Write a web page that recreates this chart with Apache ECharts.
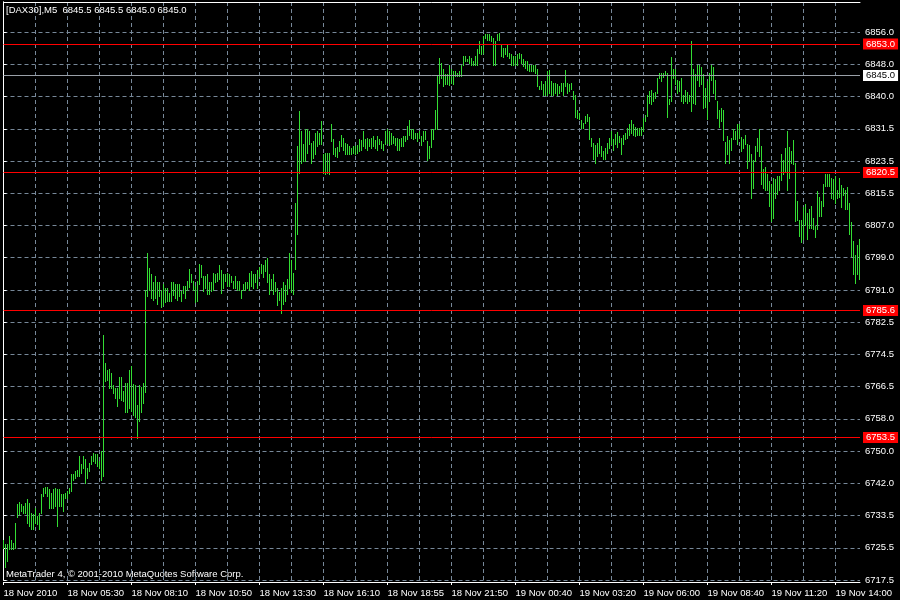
<!DOCTYPE html>
<html><head><meta charset="utf-8">
<script src="https://cdn.jsdelivr.net/npm/echarts@6/dist/echarts.min.js"></script>
<style>html,body{margin:0;padding:0;background:#000}#c{width:900px;height:600px}</style>
</head><body><div id="c"></div>
<script>
const timeLabels = ['18 Nov 2010','18 Nov 05:30','18 Nov 08:10','18 Nov 10:50','18 Nov 13:30','18 Nov 16:10','18 Nov 18:55','18 Nov 21:50','19 Nov 00:40','19 Nov 03:20','19 Nov 06:00','19 Nov 08:40','19 Nov 11:20','19 Nov 14:00'];
const priceLabels = ['6717.5','6725.5','6733.5','6742.0','6750.0','6758.0','6766.5','6774.5','6782.5','6791.0','6799.0','6807.0','6815.5','6823.5','6831.5','6840.0','6848.0','6856.0'];
const levelValues = [6853.0, 6845.0, 6820.5, 6785.6, 6753.5];
const levelLabels = ['6853.0','6845.0','6820.5','6785.6','6753.5'];
const levelIsBid = [false, true, false, false, false];
const headerText = '[DAX30],M5  6845.5 6845.5 6845.0 6845.0';
const footerText = 'MetaTrader 4, \u00A9 2001-2010 MetaQuotes Software Corp.';

const highs = [
 6727.5,6726.5,6726.5,6728.6,6727.5,6726.9,6731.8,6736.6,6737.2,6736.8,
 6736.2,6737.0,6737.9,6737.0,6734.5,6734.1,6735.8,6733.7,6734.5,6739.2,
 6740.8,6741.0,6741.0,6740.4,6739.6,6740.4,6740.8,6740.4,6740.4,6739.3,
 6739.2,6739.6,6740.0,6740.8,6744.2,6744.2,6745.1,6745.2,6748.8,6746.7,
 6748.8,6748.0,6745.9,6747.2,6748.8,6749.7,6749.4,6749.3,6747.6,6750.1,
 6779.4,
 6772.4,6770.7,6770.9,6769.7,6766.8,6766.1,6766.1,6768.8,6768.8,6765.3,
 6767.4,6767.2,6770.7,6771.6,6767.1,6766.8,6761.7,6766.8,6766.3,6767.4,6790.7,
 6800.1,6796.4,6794.9,6792.9,6794.3,6792.7,6792.8,6790.7,6792.2,6791.4,
 6791.2,6790.1,6792.9,6792.8,6792.4,6792.2,6792.2,6790.5,6791.8,6791.8,
 6793.2,6796.1,6794.9,6793.1,6791.8,6793.1,6797.3,6797.1,6794.3,6794.3,
 6794.8,6792.9,6792.9,6795.2,6794.9,6795.2,6797.1,6795.8,6794.9,6794.9,
 6795.2,6794.8,6794.3,6793.2,6794.3,6793.2,6793.2,6790.9,6792.4,6792.7,
 6792.9,6795.2,6795.6,6794.9,6794.9,6795.8,6796.6,6797.5,6797.1,6798.5,
 6798.8,6794.9,6793.7,6794.9,6792.9,6791.2,6790.4,6791.4,6792.9,6792.1,
 6793.7,6800.1,6798.5,6795.2,
 6812.9,6827.2,
 6836.0,6831.0,6827.6,6831.4,6831.4,6831.1,6828.0,6828.4,6830.5,6831.0,
 6830.5,6833.5,6825.1,6825.5,6825.5,6825.5,6832.7,6828.9,6826.8,6827.0,
 6828.4,6830.1,6829.3,6828.0,6827.6,6827.2,6826.8,6827.2,6827.2,6827.4,
 6828.9,6828.6,6831.1,6828.9,6829.3,6828.9,6829.3,6829.7,6828.6,6829.7,
 6828.9,6828.4,6827.8,6831.0,6831.4,6831.1,6830.5,6829.7,6829.3,6829.3,
 6828.9,6829.3,6829.7,6829.7,6832.2,6833.7,6831.4,6831.4,6830.5,6830.5,
 6831.1,6829.7,6831.0,6831.0,6828.4,6827.2,6831.4,6831.4,6836.4,6844.9,
 6849.5,6848.2,6846.6,6845.3,6845.3,6847.8,6846.6,6846.1,6846.1,6845.7,
 6846.1,6847.8,6849.9,6849.9,6849.1,6849.9,6849.5,6848.7,6849.9,6851.6,
 6853.7,6852.5,6855.0,6855.6,6855.6,6855.6,6855.0,6854.6,6853.7,6855.6,
 6855.8,6852.9,6852.0,6852.0,6852.7,6850.8,6850.4,6849.9,6849.9,6850.4,
 6850.8,6850.5,6849.3,6848.8,6848.8,6847.8,6847.7,6847.7,6847.8,6846.6,
 6842.4,6843.6,6842.8,6843.6,6846.1,6846.3,6843.6,6843.2,6843.2,6842.8,
 6842.4,6843.2,6843.2,6846.3,6843.2,6842.8,6843.2,6841.1,6840.2,6836.2,
 6835.6,6833.7,6833.1,6834.8,6835.4,6834.5,6829.3,6828.0,6827.4,6828.0,
 6829.1,6827.2,6825.9,6826.8,6828.0,6829.1,6831.1,6828.9,6830.3,6830.8,
 6829.7,6829.1,6830.1,6830.5,6831.8,6832.7,6833.7,6832.7,6832.0,6831.8,
 6831.8,6832.0,6834.3,6835.0,6840.2,6841.1,6841.3,6840.7,6840.9,6844.5,
 6845.7,6845.7,6845.7,6846.1,6845.7,6839.0,6849.7,6846.6,6846.6,6843.8,
 6843.6,6844.3,6840.2,6841.3,6840.9,6840.2,6853.7,6846.6,6845.3,6847.7,
 6847.7,
 6847.2,6845.3,6841.9,6843.6,6845.7,6847.8,6847.2,6844.0,6838.7,6836.4,
 6836.7,6836.4,6828.3,6829.7,6828.6,6829.3,6831.6,6831.1,6832.7,6832.8,
 6829.5,6828.9,6830.1,6827.8,6827.4,6825.3,6823.6,6827.2,6829.3,6831.6,
 6827.2,6821.3,6821.9,6820.0,6818.3,6817.5,6819.2,6818.8,6819.6,6819.6,
 6825.1,6823.6,6826.8,6831.0,6827.0,6825.9,6828.6,6823.0,6813.3,6808.4,
 6808.4,6811.8,6812.6,6810.3,6811.2,6812.0,6808.9,6807.0,6815.8,6814.3,
 6813.3,6817.5,6820.2,6820.0,6820.0,6819.2,6818.9,6819.6,6816.2,6819.2,
 6817.3,6816.6,6816.2,6816.8,6812.9,6808.1,6803.3,6799.6,6802.2,6803.6
];
const lows = [
 6725.7,6720.8,6722.3,6725.3,6725.3,6725.3,6725.7,6733.3,6734.1,6734.9,
 6734.5,6734.5,6732.0,6731.2,6730.3,6730.3,6732.0,6731.6,6730.3,6734.5,
 6738.7,6739.6,6738.7,6735.8,6735.8,6735.6,6736.2,6731.2,6736.2,6736.2,
 6734.9,6738.3,6738.3,6739.6,6740.0,6742.9,6743.4,6743.8,6743.8,6744.6,
 6745.9,6742.1,6743.4,6745.1,6746.7,6747.6,6747.2,6746.3,6745.9,6742.9,
 6743.8,
 6767.8,6768.0,6766.1,6766.1,6764.8,6763.6,6761.5,6763.6,6762.9,6762.7,
 6759.9,6759.9,6761.0,6760.2,6759.2,6758.7,6753.5,6757.8,6760.0,6762.3,6765.1,
 6789.3,6790.7,6788.7,6788.2,6788.9,6787.2,6789.3,6786.5,6787.0,6787.8,
 6788.0,6788.0,6788.0,6789.5,6788.9,6788.2,6789.3,6788.0,6790.1,6788.9,
 6790.7,6791.6,6792.7,6790.7,6787.8,6788.0,6792.2,6794.1,6790.5,6791.2,
 6789.7,6789.9,6790.5,6790.9,6792.9,6793.2,6793.5,6790.1,6791.4,6793.2,
 6791.8,6791.8,6792.9,6791.4,6791.4,6790.7,6790.7,6788.9,6790.7,6790.7,
 6791.4,6790.7,6791.8,6791.4,6792.7,6791.4,6794.3,6795.2,6794.1,6795.6,
 6792.7,6789.9,6790.7,6789.7,6790.5,6787.0,6788.2,6785.1,6787.3,6788.0,
 6789.9,6791.4,6790.4,6789.9,
 6796.0,6805.0,
 6820.4,6823.0,6823.4,6823.4,6825.5,6827.6,6823.0,6824.2,6825.1,6827.2,
 6827.6,6827.6,6820.4,6820.0,6820.4,6820.0,6828.4,6825.1,6824.6,6824.4,
 6825.9,6827.2,6826.3,6825.3,6825.3,6825.1,6825.1,6825.5,6825.3,6825.5,
 6825.9,6826.3,6827.2,6826.8,6826.3,6827.2,6826.8,6827.2,6826.8,6826.3,
 6827.6,6826.6,6826.1,6827.8,6828.0,6827.4,6827.8,6828.0,6827.4,6826.1,
 6826.3,6827.2,6827.2,6828.4,6828.9,6830.1,6829.3,6828.9,6829.3,6828.4,
 6829.3,6827.4,6828.4,6828.9,6823.6,6824.2,6827.0,6828.9,6831.4,6831.4,
 6843.2,6844.5,6842.4,6842.8,6842.8,6842.6,6843.2,6842.8,6844.9,6844.9,
 6844.9,6844.9,6847.8,6848.7,6848.7,6848.2,6847.8,6847.8,6847.8,6847.8,
 6850.8,6850.4,6850.8,6854.6,6854.1,6854.1,6853.7,6847.8,6847.8,6854.1,
 6854.1,6849.9,6849.7,6850.4,6849.9,6849.5,6847.8,6847.7,6847.8,6847.8,
 6849.5,6848.2,6847.4,6847.0,6846.3,6846.1,6846.1,6846.1,6845.7,6842.4,
 6841.5,6841.5,6840.2,6840.2,6840.2,6840.7,6840.2,6840.2,6840.7,6840.2,
 6840.7,6841.1,6840.2,6842.4,6840.7,6841.1,6841.5,6839.2,6834.5,6834.3,
 6833.9,6831.8,6831.8,6833.1,6833.5,6828.9,6827.2,6823.8,6823.0,6824.6,
 6825.5,6824.6,6824.0,6824.0,6825.5,6826.8,6827.6,6826.3,6827.8,6826.9,
 6828.3,6825.3,6827.8,6828.9,6829.3,6830.1,6830.5,6830.1,6829.7,6830.1,
 6830.1,6830.1,6831.0,6833.5,6834.8,6838.1,6837.7,6838.6,6839.4,6840.7,
 6844.5,6843.6,6844.6,6845.3,6834.5,6837.7,6838.6,6844.5,6842.8,6840.7,
 6841.1,6838.6,6838.1,6838.7,6838.1,6838.6,6836.0,6838.1,6837.7,6843.8,
 6842.4,
 6842.8,6836.7,6837.0,6833.9,6838.6,6844.0,6840.7,6839.0,6834.3,6832.0,
 6833.5,6828.6,6823.0,6825.1,6823.0,6826.3,6828.9,6828.9,6827.8,6829.3,
 6825.9,6826.6,6827.6,6821.7,6823.4,6814.1,6816.6,6823.4,6825.9,6824.6,
 6817.5,6816.6,6816.2,6816.0,6812.0,6808.2,6809.1,6814.1,6815.0,6816.2,
 6818.5,6820.0,6820.9,6816.2,6819.2,6823.0,6822.7,6808.2,6808.6,6804.4,
 6803.0,6803.6,6807.2,6803.8,6806.4,6806.5,6806.1,6804.2,6806.1,6809.5,
 6809.5,6812.0,6817.1,6817.1,6817.1,6814.1,6813.7,6812.9,6814.1,6814.3,
 6811.8,6814.8,6811.2,6811.2,6805.0,6799.4,6794.8,6792.6,6794.8,6793.7
];
if (highs.length !== lows.length) throw new Error('length mismatch ' + highs.length + ' ' + lows.length);

const FONT = 'Liberation Sans';
const FS = 9.5;
const BAR = '#33dd33';
const GRIDC = '#778899';
const yMin = 6717.5, yStep = 138.5 / 17, yMax = 6863.6;
const xMax = 428.25;

const barData = highs.map((h, i) => [i, h, lows[i]]);

const chart = echarts.init(document.getElementById('c'), null, {renderer: 'canvas'});
chart.setOption({
  backgroundColor: '#000',
  animation: false,
  grid: {left: 3.5, right: 40, top: 2, bottom: 20, containLabel: false},
  graphic: [
    {type: 'text', left: 6, top: 5, style: {text: headerText, fill: '#fff', font: FS + 'px "' + FONT + '"'}},
    {type: 'text', left: 6, top: 569, style: {text: footerText, fill: '#fff', font: FS + 'px "' + FONT + '"'}}
  ],
  xAxis: [
    {type: 'value', min: 0, max: xMax, interval: 32, position: 'bottom', offset: 2,
     axisLine: {show: true, lineStyle: {color: '#fff', width: 1}},
     axisTick: {show: true, length: 3, lineStyle: {color: '#fff'}},
     axisLabel: {show: true, align: 'left', margin: 6, color: '#fff', fontSize: FS, fontFamily: FONT,
       showMaxLabel: false, showMinLabel: true,
       formatter: v => (Math.abs(v % 32) < 1e-6 ? (timeLabels[Math.round(v / 32)] || '') : '')},
     splitLine: {show: false}},
    {type: 'value', min: 0, max: xMax, interval: 16, position: 'bottom',
     axisLine: {show: false}, axisTick: {show: false}, axisLabel: {show: false},
     splitLine: {show: true, showMinLine: false, showMaxLine: false, lineStyle: {color: GRIDC, width: 1, type: [4, 3]}}},
    {type: 'value', min: 0, max: xMax, position: 'top',
     axisLine: {show: true, lineStyle: {color: '#fff'}}, axisTick: {show: false}, axisLabel: {show: false}, splitLine: {show: false}}
  ],
  yAxis: [
    {type: 'value', position: 'right', min: yMin, max: yMax, interval: yStep,
     axisLine: {show: true, lineStyle: {color: '#fff'}},
     axisTick: {show: true, length: 3, lineStyle: {color: '#fff'}},
     axisLabel: {show: true, color: '#fff', fontSize: FS, fontFamily: FONT, margin: 5, showMaxLabel: false,
       formatter: v => priceLabels[Math.round((v - yMin) / yStep)] || ''},
     splitLine: {show: true, showMaxLine: false, lineStyle: {color: GRIDC, width: 1, type: [4, 3]}}},
    {type: 'value', position: 'left', offset: 1, min: yMin, max: yMax,
     axisLine: {show: true, lineStyle: {color: '#fff'}}, axisTick: {show: false}, axisLabel: {show: false}, splitLine: {show: false}}
  ],
  series: [
    {type: 'custom', xAxisIndex: 0, yAxisIndex: 0, silent: true, clip: true,
     encode: {x: 0, y: [1, 2]},
     data: barData,
     renderItem: (params, api) => {
       const i = api.value(0);
       const p1 = api.coord([i, api.value(1)]);
       const p2 = api.coord([i, api.value(2)]);
       const x = Math.floor(p1[0]) + 0.5;
       const y1 = Math.round(p1[1]);
       let y2 = Math.round(p2[1]) + 1;
       if (y2 - y1 < 1) y2 = y1 + 1;
       return {type: 'line', shape: {x1: x, y1: y1, x2: x, y2: y2}, style: {stroke: BAR, lineWidth: 1}};
     }},
    {type: 'line', xAxisIndex: 0, yAxisIndex: 0, data: [], silent: true,
     markLine: {
       silent: true, symbol: 'none', animation: false,
       data: levelValues.map((v, k) => ({
         yAxis: v,
         lineStyle: {color: levelIsBid[k] ? '#9aa0a8' : '#ff0000', width: 1, type: 'solid'},
         label: {show: true, position: 'end', distance: 3, formatter: levelLabels[k],
           color: levelIsBid[k] ? '#000' : '#fff', backgroundColor: levelIsBid[k] ? '#fff' : '#ff0000',
           padding: [1, 3, 0, 3], fontSize: FS, fontFamily: FONT, lineHeight: 10}
       }))
     }}
  ]
});
</script>
</body></html>
